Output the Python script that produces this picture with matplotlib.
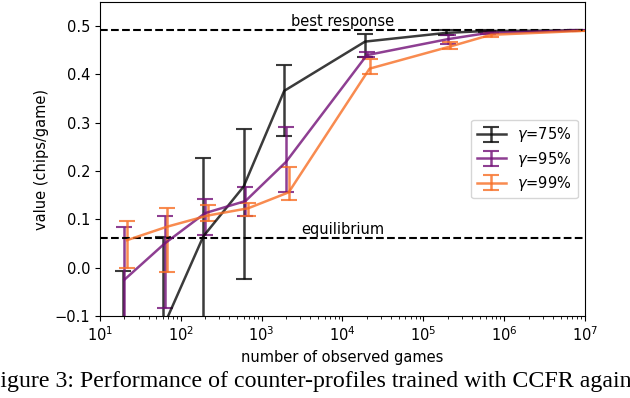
import matplotlib
matplotlib.use('Agg')
import matplotlib.pyplot as plt

# observed games (x) and mean value +- interval for each gamma
games = [20, 63, 200, 630, 2000, 2e4, 2e5, 6.3e5, 8e6]

g75_mean = [-0.22, -0.125, 0.065, 0.168, 0.366, 0.468, 0.486, 0.490, 0.491]
g75_low = [-0.35, -0.30, -0.15, -0.023, 0.272, 0.436, 0.481, 0.488, 0.491]
g75_high = [-0.006, 0.063, 0.228, 0.288, 0.420, 0.484, 0.491, 0.492, 0.491]

g95_mean = [-0.025, 0.050, 0.113, 0.138, 0.219, 0.440, 0.473, 0.486, 0.491]
g95_low = [-0.134, -0.084, 0.067, 0.107, 0.156, 0.436, 0.463, 0.483, 0.491]
g95_high = [0.084, 0.108, 0.142, 0.167, 0.292, 0.446, 0.482, 0.489, 0.491]

g99_mean = [0.057, 0.085, 0.108, 0.123, 0.156, 0.412, 0.458, 0.482, 0.490]
g99_low = [-0.001, -0.009, 0.097, 0.107, 0.140, 0.400, 0.453, 0.477, 0.490]
g99_high = [0.097, 0.123, 0.130, 0.133, 0.208, 0.432, 0.468, 0.486, 0.490]

best_response = 0.492
equilibrium = 0.061

series = [
    ('$\\gamma$=75%', g75_mean, g75_low, g75_high, '#0a0a0a', 0.95),
    ('$\\gamma$=95%', g95_mean, g95_low, g95_high, '#720f77', 1.0),
    ('$\\gamma$=99%', g99_mean, g99_low, g99_high, '#f76e24', 1.08),
]

fs = 10.5

fig = plt.figure(figsize=(6.3, 3.98), dpi=100)
ax = fig.add_axes([0.1587, 0.206, 0.7699, 0.789])

for label, mean, low, high, color, shift in series:
    xs = [g * shift for g in games]
    yerr = [[m - lo for m, lo in zip(mean, low)], [hi - m for m, hi in zip(mean, high)]]
    ax.errorbar(xs, mean, yerr=yerr, color=color, alpha=0.8, lw=1.8,
                capsize=5.5, capthick=1.5, elinewidth=1.8, label=label)

ax.axhline(best_response, color='black', ls='--', lw=1.5)
ax.axhline(equilibrium, color='black', ls='--', lw=1.5)
ax.text(1e4, best_response + 0.003, 'best response', ha='center', va='bottom', fontsize=fs)
ax.text(1e4, equilibrium + 0.003, 'equilibrium', ha='center', va='bottom', fontsize=fs)

ax.set_xscale('log')
ax.set_xlim(10, 1e7)
ax.set_ylim(-0.1, 0.55)
ax.set_yticks([-0.1, 0.0, 0.1, 0.2, 0.3, 0.4, 0.5])
ax.tick_params(labelsize=fs)
ax.set_xlabel('number of observed games', fontsize=fs)
ax.set_ylabel('value (chips/game)', fontsize=fs)
ax.legend(loc='center right', fontsize=fs, labelspacing=0.35)

fig.text(-0.021, 0.028, 'Figure 3: Performance of counter-profiles trained with CCFR against',
         fontsize=17.2, family='Liberation Serif', ha='left', va='baseline')

fig.savefig('out.png', dpi=100)
